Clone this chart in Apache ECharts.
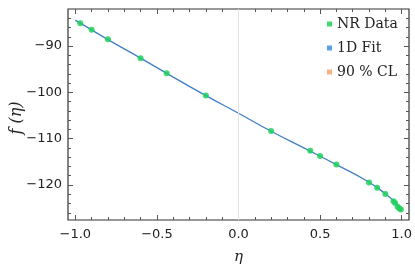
<!DOCTYPE html>
<html><head><meta charset="utf-8">
<script src="https://cdn.jsdelivr.net/npm/echarts@6/dist/echarts.min.js"></script>
<style>html,body{margin:0;padding:0;background:#fff}#c{width:415px;height:270px}</style>
</head><body><div id="c"></div>
<script>
const etaData = [-0.97, -0.9, -0.8, -0.6, -0.44, -0.2, 0.2, 0.44, 0.5, 0.6, 0.8, 0.85, 0.9, 0.95, 0.96, 0.975, 0.985, 0.995];
const fData   = [-85.1, -86.5, -88.55, -92.66, -95.9, -100.7, -108.36, -112.6, -113.76, -115.55, -119.45, -120.6, -121.97, -123.5, -123.9, -124.7, -125.0, -125.3];
const fitEta  = [-1.0, -0.9, -0.8, -0.6, -0.4, -0.2, 0.0, 0.2, 0.4, 0.6, 0.8, 0.9, 0.95, 1.0];
const fitF    = [-84.4, -86.5, -88.6, -92.6, -96.7, -100.7, -104.5, -108.4, -112.0, -115.6, -119.4, -121.9, -123.4, -125.6];
const xMajor = [-1.0, -0.5, 0.0, 0.5, 1.0];
const xMinor = [-1.0,-0.9,-0.8,-0.7,-0.6,-0.5,-0.4,-0.3,-0.2,-0.1,0,0.1,0.2,0.3,0.4,0.5,0.6,0.7,0.8,0.9,1.0];
const yMajor = [-120, -110, -100, -90];
const yMinor = [-126,-124,-122,-120,-118,-116,-114,-112,-110,-108,-106,-104,-102,-100,-98,-96,-94,-92,-90,-88,-86,-84];
const seriesNames = ['NR Data', '1D Fit', '90 % CL'];

const XMIN=-1.045, XMAX=1.045, YMIN=-127.56, YMAX=-82.0;
const minus = s => s.replace('-', '\u2212');
const tickCol = '#555';
function xAx(pos, vals, len, labels){
  return {type:'value', min:XMIN, max:XMAX, position:pos,
    axisLine:{show:false, onZero:false}, splitLine:{show:false},
    axisTick:{show:true, inside:true, length:len, customValues:vals, lineStyle:{color:tickCol,width:1}},
    axisLabel:{show:labels, customValues:vals, formatter:v=>minus(v.toFixed(1)), color:'#222',
      fontFamily:'DejaVu Sans', fontSize:13, margin:8}};
}
function yAx(pos, vals, len, labels){
  return {type:'value', min:YMIN, max:YMAX, position:pos,
    axisLine:{show:false, onZero:false}, splitLine:{show:false},
    axisTick:{show:true, inside:true, length:len, customValues:vals, lineStyle:{color:tickCol,width:1}},
    axisLabel:{show:labels, customValues:vals, formatter:v=>minus(String(v)), color:'#222',
      fontFamily:'DejaVu Sans', fontSize:13, margin:6}};
}
const chart = echarts.init(document.getElementById('c'), null, {renderer:'canvas'});
chart.setOption({
  animation:false,
  grid:{left:68, right:5, top:9, bottom:50, show:true, borderColor:'#333', borderWidth:1.2, backgroundColor:'transparent'},
  xAxis:[xAx('bottom', xMajor, 5, true), xAx('bottom', xMinor, 3, false), xAx('top', xMajor, 5, false), xAx('top', xMinor, 3, false)],
  yAxis:[yAx('left', yMajor, 5, true), yAx('left', yMinor, 3, false), yAx('right', yMajor, 5, false), yAx('right', yMinor, 3, false)],
  graphic:[
    {type:'text', left:234, top:250, style:{text:'\u03b7', font:'italic 15px "DejaVu Serif"', fill:'#222'}},
    {type:'text', x:17, y:118, rotation:Math.PI/2, style:{text:'f (\u03b7)', font:'italic 16px "DejaVu Serif"', fill:'#222', align:'center', verticalAlign:'middle'}}
  ],
  legend:{orient:'vertical', left:322, top:12, itemWidth:5, itemHeight:5, itemGap:10, icon:'rect',
    textStyle:{fontFamily:'DejaVu Serif', fontSize:14, color:'#222', lineHeight:14},
    data:seriesNames},
  series:[
    {name:seriesNames[1], type:'line', data:fitEta.map((e,i)=>[e,fitF[i]]), smooth:true, showSymbol:false,
      lineStyle:{color:'#3f7fc8', width:1.3}, itemStyle:{color:'#5aa0e8'}, z:2,
      markLine:{silent:true, symbol:'none', label:{show:false}, lineStyle:{color:'#e4e4e4', type:'solid', width:1}, data:[{xAxis:0}]}},
    {name:seriesNames[0], type:'scatter', data:etaData.map((e,i)=>[e,fData[i]]), symbolSize:6,
      itemStyle:{color:'#1fd05c', opacity:0.85}, z:3},
    {name:seriesNames[2], type:'line', data:[], itemStyle:{color:'#f3b283'}, lineStyle:{color:'#f3b283'}}
  ]
});
</script></body></html>
